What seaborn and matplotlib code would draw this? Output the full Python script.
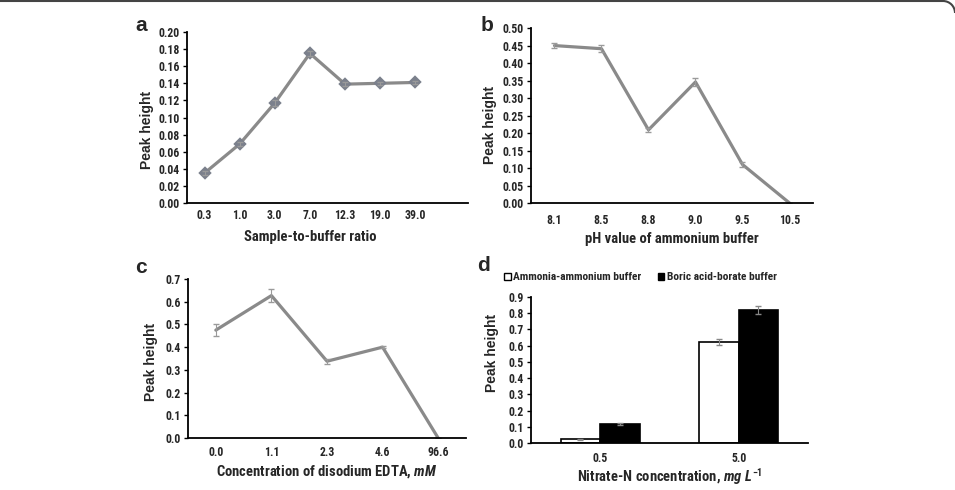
import numpy as np
import pandas as pd
import seaborn as sns
import matplotlib.pyplot as plt
from matplotlib.patches import Arc
from matplotlib.lines import Line2D
from matplotlib.ticker import MultipleLocator, FormatStrFormatter

# panel a: sample-to-buffer ratio
ratio_labels = ['0.3', '1.0', '3.0', '7.0', '12.3', '19.0', '39.0']
ratio_peak = [0.035, 0.069, 0.117, 0.175, 0.139, 0.140, 0.141]
ratio_err = [0.002, 0.002, 0.003, 0.003, 0.002, 0.002, 0.002]

# panel b: pH of ammonium buffer
ph_labels = ['8.1', '8.5', '8.8', '9.0', '9.5', '10.5']
ph_peak = [0.450, 0.441, 0.209, 0.346, 0.110, 0.0]
ph_err = [0.008, 0.010, 0.005, 0.012, 0.006, 0.0]

# panel c: disodium EDTA
edta_labels = ['0.0', '1.1', '2.3', '4.6', '96.6']
edta_peak = [0.475, 0.627, 0.338, 0.400, 0.0]
edta_err = [0.025, 0.028, 0.010, 0.004, 0.0]

# panel d: buffer comparison
conc_labels = ['0.5', '5.0']
buffers = ['Ammonia-ammonium buffer', 'Boric acid-borate buffer']
ammonia_peak = [0.022, 0.625]
ammonia_err = [0.003, 0.018]
boric_peak = [0.118, 0.820]
boric_err = [0.005, 0.025]

sns.set_style("white")
NARROW = ['Roboto Condensed', 'Liberation Sans', 'DejaVu Sans']
WIDE = ['Liberation Sans', 'DejaVu Sans']
plt.rcParams['font.family'] = NARROW
plt.rcParams['mathtext.fontset'] = 'custom'
plt.rcParams['mathtext.rm'] = 'Roboto Condensed:bold'
plt.rcParams['mathtext.it'] = 'Roboto Condensed:italic:bold'
plt.rcParams['mathtext.bf'] = 'Roboto Condensed:bold'

line_col = '#8a8a8a'
tick_font = dict(family=NARROW, size=8.5, weight='bold')
ylab_font = dict(family=WIDE, size=10, weight='bold')
xlab_font = dict(family=NARROW, size=10.5, weight='bold')

fig = plt.figure(figsize=(9.55, 4.9), dpi=100)
ax_a = fig.add_axes([0.1958, 0.5857, 0.2942, 0.349])
ax_b = fig.add_axes([0.556, 0.5857, 0.2953, 0.357])
ax_c = fig.add_axes([0.1969, 0.1061, 0.291, 0.3245])
ax_d = fig.add_axes([0.556, 0.0959, 0.290, 0.298])


def style_axis(ax, nslots, ymax, ystep, fmt, xlabel, tpad, xl_pos, yl_pos):
    for s in ['top', 'right']:
        ax.spines[s].set_visible(False)
    for s in ['left', 'bottom']:
        ax.spines[s].set_color('black')
        ax.spines[s].set_linewidth(1.3)
    ax.set_xlim(-0.5, nslots - 0.5)
    ax.set_ylim(0, ymax)
    ax.yaxis.set_major_locator(MultipleLocator(ystep))
    ax.yaxis.set_major_formatter(FormatStrFormatter(fmt))
    ax.set_xticks(np.arange(-0.5, nslots), minor=True)
    ax.tick_params(axis='x', which='major', length=0, pad=tpad)
    ax.tick_params(axis='x', which='minor', length=3, width=1, direction='out', color='black')
    ax.tick_params(axis='y', length=3, width=1, direction='out', color='black', pad=2, left=True)
    for lab in ax.get_xticklabels() + ax.get_yticklabels():
        lab.set(**tick_font)
    ax.set_ylabel('Peak height', **ylab_font)
    ax.set_xlabel(xlabel, **xlab_font)
    ax.xaxis.set_label_coords(*xl_pos)
    ax.yaxis.set_label_coords(*yl_pos)


def line_panel(ax, labels, vals, errs, marker):
    sns.pointplot(x=labels, y=vals, ax=ax, color=line_col, linewidth=2.3,
                  marker=marker, markersize=5.5, errorbar=None,
                  markerfacecolor='#7b808c', markeredgecolor='#7b808c')
    ax.errorbar(np.arange(len(vals)), vals, yerr=errs, fmt='none',
                ecolor='#9a9a9a', elinewidth=0.8, capsize=2)


line_panel(ax_a, ratio_labels, ratio_peak, ratio_err, 'D')
style_axis(ax_a, 8, 0.20, 0.02, '%.2f', 'Sample-to-buffer ratio',
           4, (3.5 / 8, -0.16), (-0.117, 0.427))

line_panel(ax_b, ph_labels, ph_peak, ph_err, '')
style_axis(ax_b, 6, 0.50, 0.05, '%.2f', 'pH value of ammonium buffer',
           8, (0.5, -0.165), (-0.12, 0.446))

line_panel(ax_c, edta_labels, edta_peak, edta_err, '')
style_axis(ax_c, 5, 0.70, 0.1, '%.1f', 'Concentration of disodium EDTA, $\\it{mM}$',
           6, (0.5, -0.16), (-0.108, 0.478))

df_d = pd.DataFrame({
    'conc': conc_labels * 2,
    'buffer': [buffers[0]] * 2 + [buffers[1]] * 2,
    'peak': ammonia_peak + boric_peak,
})
sns.barplot(data=df_d, x='conc', y='peak', hue='buffer', ax=ax_d,
            palette=['white', 'black'], edgecolor='black', linewidth=1.2,
            width=0.57, errorbar=None, legend=False)
err_d = ammonia_err + boric_err
for patch, h, e in zip(ax_d.patches, ammonia_peak + boric_peak, err_d):
    cx = patch.get_x() + patch.get_width() / 2
    ax_d.errorbar(cx, h, yerr=e, fmt='none', ecolor='#888888', elinewidth=0.8, capsize=2)
style_axis(ax_d, 2, 0.90, 0.1, '%.1f', 'Nitrate-N concentration, $\\it{mg\\ L^{-1}}$',
           6.5, (0.5, -0.155), (-0.116, 0.616))

handles = [plt.Rectangle((0, 0), 1, 1, facecolor='white', edgecolor='black', linewidth=1),
           plt.Rectangle((0, 0), 1, 1, facecolor='black', edgecolor='black', linewidth=1)]
leg = ax_d.legend(handles, buffers, ncol=2, loc='lower left', bbox_to_anchor=(-0.113, 1.07),
                  frameon=False, handlelength=0.6, handleheight=0.6, handletextpad=0.2,
                  columnspacing=1.4, borderaxespad=0,
                  prop=dict(family=NARROW, size=8.2, weight='bold'))

# panel letters
for x, y, t in [(0.148, 0.947, 'a'), (0.51, 0.947, 'b'), (0.148, 0.455, 'c'), (0.506, 0.458, 'd')]:
    fig.text(x, y, t, ha='center', va='center', fontsize=15, weight='bold', family=WIDE)

# top edge of the rounded figure frame
fig.add_artist(Line2D([0, 9.43], [4.89, 4.89], transform=fig.dpi_scale_trans,
                      color='#444444', linewidth=1.5))
fig.add_artist(Arc((9.43, 4.77), 0.24, 0.24, theta1=0, theta2=90,
                   transform=fig.dpi_scale_trans, color='#444444', linewidth=1.5))

fig.savefig('out.png', dpi=100)
